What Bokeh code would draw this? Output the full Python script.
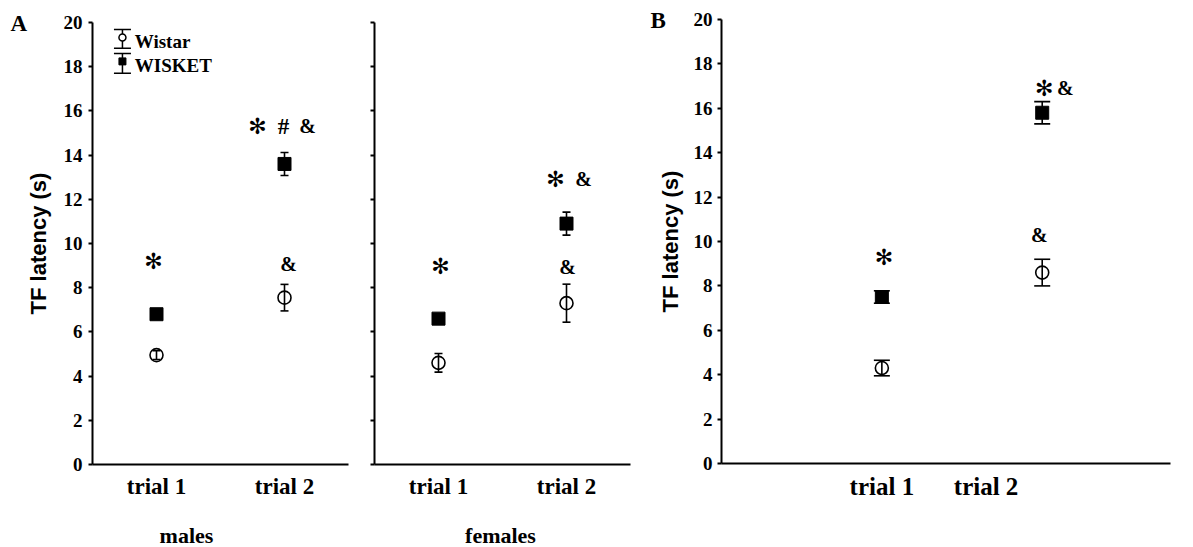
import math

from bokeh.plotting import figure
from bokeh.layouts import row
from bokeh.models import Range1d, FixedTicker
from bokeh.embed import file_html
from bokeh.resources import INLINE
from bokeh.core.properties import value

# ---- data: tail-flick latency (s), mean and SEM ----
trials = ["trial 1", "trial 2"]

males_wistar_mean = [4.95, 7.55]
males_wistar_sem = [0.2, 0.6]
males_wisket_mean = [6.8, 13.6]
males_wisket_sem = [0.15, 0.52]

females_wistar_mean = [4.6, 7.3]
females_wistar_sem = [0.42, 0.86]
females_wisket_mean = [6.6, 10.9]
females_wisket_sem = [0.15, 0.52]

b_wistar_mean = [4.3, 8.6]
b_wistar_sem = [0.35, 0.6]
b_wisket_mean = [7.5, 15.8]
b_wisket_sem = [0.28, 0.5]

y_ticks = list(range(0, 21, 2))
y_tick_labels = [str(t) for t in y_ticks]

# significance marks: (trial index, level on the y scale, symbol, pixel shift)
males_sig = [(0, 9.2, "✻", -3), (1, 15.3, "✻", -27), (1, 15.3, "#", -1),
             (1, 15.3, "&", 23), (1, 9.05, "&", 4)]
females_sig = [(0, 8.95, "✻", 2), (1, 12.9, "✻", -11), (1, 12.9, "&", 17),
               (1, 8.95, "&", 1)]
b_sig = [(0, 9.3, "✻", 2), (1, 16.9, "✻", 2), (1, 16.9, "&", 23),
         (1, 10.3, "&", -3)]

H = 547
SERIF = "Liberation Serif"
SANS = "Liberation Sans"
Y_MAX = 20


class Panel:
    """One plot; the frame fills the canvas and the axes sit at x=0 / y=0."""

    def __init__(self, width, axis_left, axis_right, top, bottom, x_end):
        sx = (axis_right - axis_left) / x_end
        sy = (bottom - top) / Y_MAX
        self.x_end = x_end
        p = figure(width=width, height=H,
                   x_range=Range1d(-axis_left / sx, (width - axis_left) / sx),
                   y_range=Range1d(-(H - bottom) / sy, Y_MAX + top / sy),
                   output_backend="svg", toolbar_location=None,
                   min_border=0, min_border_left=0, min_border_right=0,
                   min_border_top=0, min_border_bottom=0)
        p.outline_line_color = None
        p.xgrid.visible = False
        p.ygrid.visible = False
        p.background_fill_color = "white"
        p.border_fill_color = "white"

        ya = p.yaxis[0]
        ya.fixed_location = 0
        ya.bounds = (0, Y_MAX)
        ya.ticker = FixedTicker(ticks=y_ticks)
        ya.major_label_overrides = {t: "" for t in y_ticks}
        ya.axis_line_width = 2
        ya.axis_line_color = "black"
        ya.major_tick_line_width = 2
        ya.major_tick_line_color = "black"
        ya.major_tick_out = 4
        ya.major_tick_in = 0
        ya.minor_tick_line_color = None

        xa = p.xaxis[0]
        xa.fixed_location = 0
        xa.bounds = (0, x_end)
        xa.ticker = FixedTicker(ticks=[])
        xa.axis_line_width = 2
        xa.axis_line_color = "black"
        xa.major_tick_line_color = None
        xa.minor_tick_line_color = None
        self.p = p

    def text(self, xs, ys, texts, size, font=SERIF, align="center",
             dx=0, dy=0, angle=0.0, style="bold"):
        self.p.text(xs, ys, text=texts, x_offset=dx, y_offset=dy, angle=angle,
                    text_font=value(font), text_font_style=style,
                    text_font_size=size, text_align=align,
                    text_baseline="middle", text_color="black")

    def y_labels(self, dx):
        self.text([0] * len(y_ticks), y_ticks, y_tick_labels, "19px",
                  align="right", dx=dx)

    def x_labels(self, pos, size, dy):
        self.text(pos, [0] * len(pos), trials, size, dy=dy)

    def y_title(self, dx):
        self.text([0], [Y_MAX / 2], ["TF latency (s)"], "22px", font=SANS,
                  dx=dx, angle=math.pi / 2)

    def group(self, xs, mean, sem, marker, size, cap):
        p = self.p
        lo = [m - s for m, s in zip(mean, sem)]
        hi = [m + s for m, s in zip(mean, sem)]
        if marker == "circle":
            p.scatter(xs, mean, marker="circle", size=size, fill_color="white",
                      line_color="black", line_width=1.6)
        else:
            p.scatter(xs, mean, marker="square", size=size, fill_color="black",
                      line_color="black", line_width=1)
        p.segment(x0=xs, y0=lo, x1=xs, y1=hi, line_color="black", line_width=1.6)
        p.scatter(xs, lo, marker="dash", size=cap, line_color="black", line_width=1.6)
        p.scatter(xs, hi, marker="dash", size=cap, line_color="black", line_width=1.6)

    def sig(self, xs, marks):
        for idx, level, sym, shift in marks:
            if sym == "✻":
                self.text([xs[idx]], [level], [sym], "22px", font="DejaVu Sans",
                          dx=shift, style="normal")
            elif sym == "#":
                self.text([xs[idx]], [level], [sym], "23px", dx=shift)
            else:
                self.text([xs[idx]], [level], [sym], "20px", dx=shift)


# ---- panel A, males ----
pos_a = [0.5, 1.5]
males = Panel(360, 92, 348, 22, 464, 2.0)
males.y_labels(-10)
males.x_labels(pos_a, "23px", 22)
males.y_title(-54)
males.group(pos_a, males_wistar_mean, males_wistar_sem, "circle", 13, 8)
males.group(pos_a, males_wisket_mean, males_wisket_sem, "square", 13, 8)
males.sig(pos_a, males_sig)

# key for the two strains
pm = males.p
key_x = 0.234
pm.segment(x0=[key_x], y0=[18.83], x1=[key_x], y1=[19.68], line_color="black", line_width=1.5)
pm.scatter([key_x, key_x], [18.83, 19.68], marker="dash", size=17, line_color="black", line_width=1.5)
pm.scatter([key_x], [19.32], marker="circle", size=7, fill_color="white", line_color="black", line_width=1.5)
pm.segment(x0=[key_x], y0=[17.7], x1=[key_x], y1=[18.6], line_color="black", line_width=1.5)
pm.scatter([key_x, key_x], [17.7, 18.6], marker="dash", size=17, line_color="black", line_width=1.5)
pm.scatter([key_x], [18.24], marker="square", size=7, fill_color="black", line_color="black")
males.text([0.33, 0.33], [19.14, 18.06], ["Wistar", "WISKET"], "19px", align="left")

males.text([0], [Y_MAX], ["A"], "23px", align="left", dx=-82, dy=1)
males.text([males.x_end / 2], [0], ["males"], "22px", dx=-34, dy=71)

# ---- panel A, females ----
females = Panel(280, 14, 270, 22, 464, 2.0)
females.x_labels(pos_a, "23px", 22)
females.group(pos_a, females_wistar_mean, females_wistar_sem, "circle", 13, 8)
females.group(pos_a, females_wisket_mean, females_wisket_sem, "square", 13, 8)
females.sig(pos_a, females_sig)
females.text([females.x_end / 2], [0], ["females"], "22px", dx=-2, dy=71)

# ---- panel B ----
pos_b_marks = [1.0, 2.0]
pos_b_ticks = [1.0, 1.65]
panel_b = Panel(553, 81, 530, 19, 463, 2.8)
panel_b.y_labels(-9)
panel_b.x_labels(pos_b_ticks, "25px", 23)
panel_b.y_title(-51)
panel_b.group(pos_b_marks, b_wistar_mean, b_wistar_sem, "circle", 13, 16)
panel_b.group(pos_b_marks, b_wisket_mean, b_wisket_sem, "square", 13, 16)
panel_b.sig(pos_b_marks, b_sig)
panel_b.text([0], [Y_MAX], ["B"], "23px", align="left", dx=-71, dy=1)

layout = row(males.p, females.p, panel_b.p, spacing=0)
open("out.html", "w").write(file_html(layout, INLINE))
